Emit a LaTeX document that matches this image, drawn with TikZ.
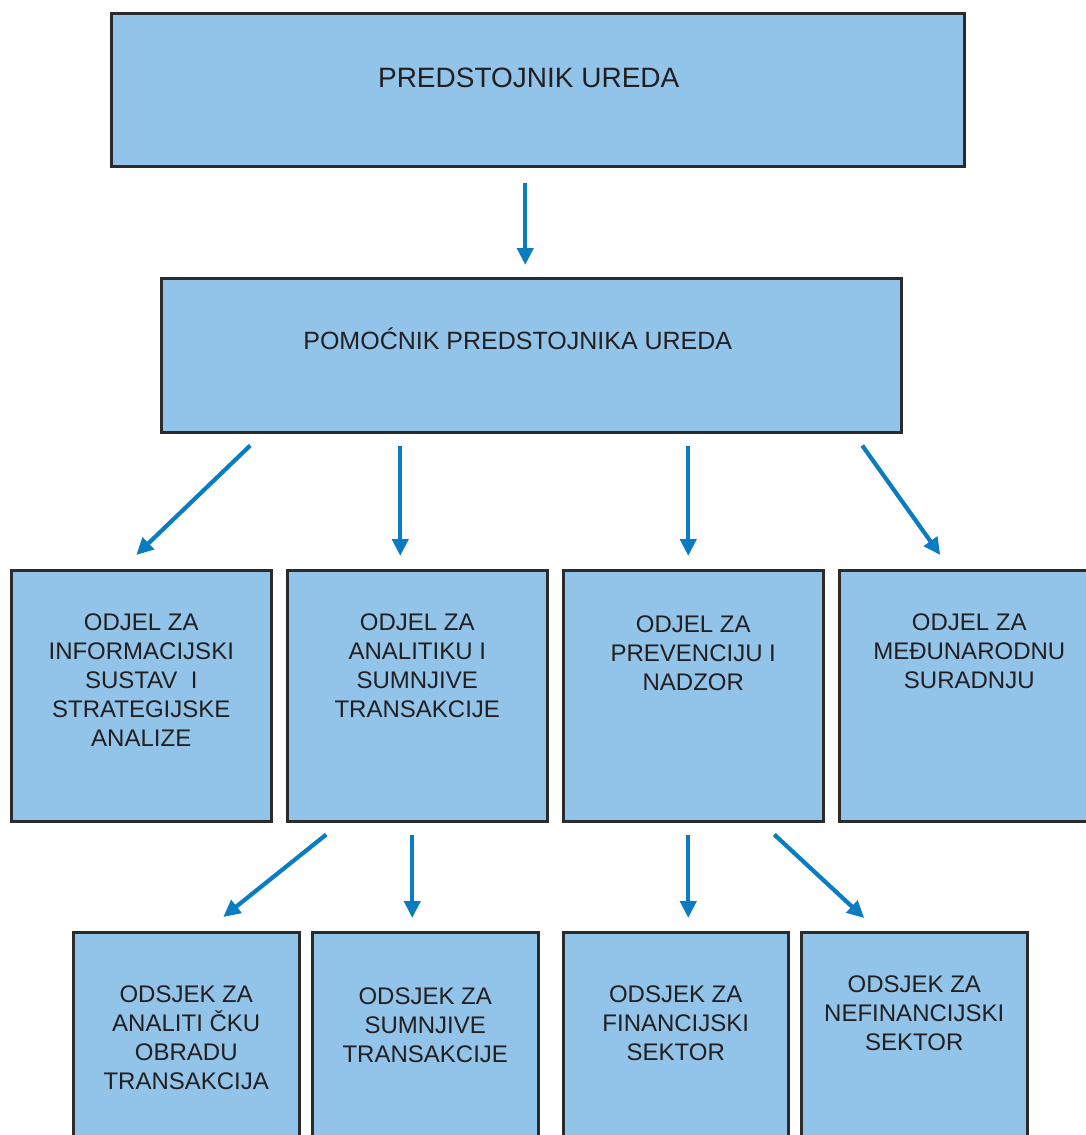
\documentclass[tikz,border=0pt]{standalone}
\usepackage{fontspec}
\setmainfont{Liberation Sans}
\usetikzlibrary{arrows.meta}

\definecolor{boxblue}{RGB}{146,196,233}
\definecolor{boxline}{RGB}{43,43,43}
\definecolor{arrblue}{RGB}{10,125,194}
\definecolor{ink}{RGB}{35,31,32}

\begin{document}
\begin{tikzpicture}[
    x=1pt, y=-1pt,
    box/.style={rectangle, draw=boxline, line width=2.5pt, fill=boxblue, text=ink, align=center, inner sep=0pt, anchor=north west},
    headbox/.style={box, font={\fontsize{28}{33}\selectfont}},
    deputybox/.style={box, font={\fontsize{25}{29}\selectfont}},
    odjelbox/.style={box, minimum width=260pt, font={\fontsize{24}{29}\selectfont}},
    odsjekbox/.style={box, minimum width=226pt, font={\fontsize{24}{29}\selectfont}},
    arr/.style={-{Triangle[length=17pt, width=16pt]}, line width=4.2pt, draw=arrblue},
]
\clip (0,0) rectangle (1086,1135);
\fill[white] (0,0) rectangle (1086,1135);

% Nodes
\node[headbox, minimum width=853pt, text height=74pt, text depth=79pt] (boss) at (110,12) {PREDSTOJNIK UREDA\hspace*{18pt}};

\node[deputybox, minimum width=740pt, text height=71pt, text depth=83pt] (deputy) at (160,277) {POMOĆNIK PREDSTOJNIKA UREDA\hspace*{27pt}};

\node[odjelbox, text height=176pt, text depth=75pt] (odjelIS) at (10,569) {ODJEL ZA\\INFORMACIJSKI\\SUSTAV~~I\\STRATEGIJSKE\\ANALIZE};
\node[odjelbox, text height=147pt, text depth=104pt] (odjelAT) at (286,569) {ODJEL ZA\\ANALITIKU I\\SUMNJIVE\\TRANSAKCIJE};
\node[odjelbox, text height=120pt, text depth=131pt] (odjelPN) at (562,569) {ODJEL ZA\\PREVENCIJU I\\NADZOR};
\node[odjelbox, text height=118pt, text depth=133pt] (odjelMS) at (838,569) {ODJEL ZA\\MEĐUNARODNU\\SURADNJU};

\node[odsjekbox, text height=157pt, text depth=93pt] (odsjekAO) at (72,931) {ODSJEK ZA\\ANALITI ČKU\\OBRADU\\TRANSAKCIJA};
\node[odsjekbox, text height=130pt, text depth=120pt] (odsjekST) at (311,931) {ODSJEK ZA\\SUMNJIVE\\TRANSAKCIJE};
\node[odsjekbox, minimum width=225pt, text height=128pt, text depth=122pt] (odsjekFS) at (562,931) {ODSJEK ZA\\FINANCIJSKI\\SEKTOR};
\node[odsjekbox, text height=118pt, text depth=132pt] (odsjekNS) at (800,931) {ODSJEK ZA\\NEFINANCIJSKI\\SEKTOR};

% Arrows
\draw[arr] ([shift={(-12.5,15)}]boss.south) -- ([shift={(-6,-12)}]deputy.north);

\draw[arr] ([shift={(-281,12)}]deputy.south) -- ([shift={(-5,-14)}]odjelIS.north);
\draw[arr] ([shift={(-131,12)}]deputy.south) -- ([shift={(-17,-13)}]odjelAT.north);
\draw[arr] ([shift={(157,12)}]deputy.south) -- ([shift={(-5,-13)}]odjelPN.north);
\draw[arr] ([shift={(331,12)}]deputy.south) -- ([shift={(-29,-14)}]odjelMS.north);

% Odsjeci
\draw[arr] ([shift={(-91,12)}]odjelAT.south) -- ([shift={(37,-14)}]odsjekAO.north);
\draw[arr] ([shift={(-5,12)}]odjelAT.south) -- ([shift={(-13,-13)}]odsjekST.north);
\draw[arr] ([shift={(-5,12)}]odjelPN.south) -- ([shift={(12.5,-13)}]odsjekFS.north);
\draw[arr] ([shift={(81,12)}]odjelPN.south) -- ([shift={(-50,-13)}]odsjekNS.north);

\end{tikzpicture}
\end{document}
